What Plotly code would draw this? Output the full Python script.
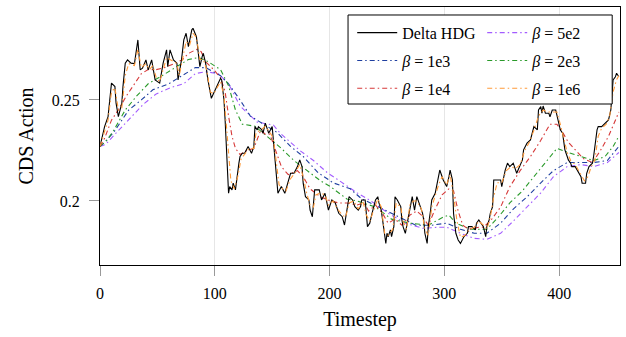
import plotly.graph_objects as go

# ---- Data ----
hdg_t = [0, 4, 7, 10, 13, 14, 16, 19, 20, 22, 24, 27, 30, 33, 35, 37, 40, 42, 45, 48, 52, 55, 58, 59, 61, 64, 67, 68, 71, 73, 75, 77, 80, 81, 84, 86, 87, 89, 90, 92, 94, 97, 99, 102, 105, 106, 108, 109, 110, 112, 113, 115, 116, 118, 121, 122, 124, 126, 129, 132, 134, 135, 137, 138, 141, 142, 144, 147, 150, 151, 153, 155, 158, 161, 166, 169, 172, 174, 176, 177, 179, 182, 183, 185, 187, 191, 193, 196, 199, 202, 205, 208, 211, 213, 215, 217, 220, 222, 225, 227, 228, 231, 233, 235, 237, 240, 242, 243, 245, 247, 249, 250, 251, 253, 254, 256, 257, 259, 262, 263, 264, 266, 267, 269, 271, 272, 274, 276, 278, 281, 282, 283, 285, 286, 288, 289, 292, 294, 296, 299, 302, 304, 305, 307, 308, 310, 312, 314, 317, 320, 321, 324, 327, 328, 330, 334, 336, 337, 339, 340, 342, 343, 346, 349, 350, 353, 355, 357, 360, 363, 368, 369, 372, 375, 378, 381, 382, 384, 385, 386, 388, 391, 392, 394, 397, 400, 401, 403, 404, 405, 407, 408, 410, 411, 414, 417, 419, 420, 423, 424, 426, 429, 430, 433, 434, 437, 440, 443, 445, 446, 447, 449, 450, 452]
hdg_y = [0.227, 0.2368, 0.2417, 0.2583, 0.2566, 0.2484, 0.2417, 0.2484, 0.2566, 0.2682, 0.2698, 0.2682, 0.268, 0.2797, 0.2649, 0.2657, 0.2698, 0.2649, 0.2698, 0.2599, 0.2583, 0.2682, 0.2748, 0.2665, 0.2748, 0.2698, 0.2682, 0.2599, 0.2698, 0.2797, 0.283, 0.2764, 0.2847, 0.2855, 0.2813, 0.2731, 0.2665, 0.2714, 0.2731, 0.2682, 0.2599, 0.2508, 0.2533, 0.2574, 0.2607, 0.2599, 0.25, 0.2401, 0.2269, 0.2038, 0.2071, 0.2055, 0.2088, 0.2055, 0.2187, 0.222, 0.2236, 0.2236, 0.2269, 0.2236, 0.2269, 0.2368, 0.2352, 0.2368, 0.2352, 0.2335, 0.2385, 0.2335, 0.2368, 0.2286, 0.217, 0.2038, 0.2071, 0.2038, 0.2137, 0.2137, 0.217, 0.2203, 0.217, 0.2088, 0.2021, 0.2005, 0.1955, 0.1922, 0.2055, 0.2055, 0.2005, 0.2038, 0.1955, 0.2005, 0.199, 0.1939, 0.1922, 0.1881, 0.1955, 0.2021, 0.2005, 0.1972, 0.1955, 0.1972, 0.2005, 0.2005, 0.1873, 0.189, 0.1939, 0.2005, 0.2021, 0.199, 0.1955, 0.1873, 0.179, 0.184, 0.1823, 0.1857, 0.1823, 0.1873, 0.2021, 0.2005, 0.1972, 0.1906, 0.1873, 0.184, 0.1873, 0.1922, 0.2005, 0.2021, 0.1955, 0.2021, 0.1989, 0.1939, 0.1906, 0.184, 0.179, 0.1873, 0.1955, 0.2005, 0.2038, 0.2088, 0.2153, 0.2104, 0.2071, 0.212, 0.2153, 0.2104, 0.1939, 0.184, 0.1807, 0.179, 0.1823, 0.184, 0.1873, 0.1873, 0.1857, 0.189, 0.1906, 0.1873, 0.1823, 0.1873, 0.1906, 0.1939, 0.1972, 0.2104, 0.2104, 0.2104, 0.2071, 0.2153, 0.2187, 0.217, 0.2187, 0.2137, 0.2203, 0.2253, 0.2286, 0.2302, 0.2368, 0.2352, 0.245, 0.2467, 0.2434, 0.247, 0.2434, 0.2434, 0.2417, 0.245, 0.245, 0.2368, 0.2352, 0.2335, 0.2286, 0.2253, 0.222, 0.2203, 0.2187, 0.217, 0.217, 0.2137, 0.212, 0.2088, 0.2088, 0.2137, 0.217, 0.2187, 0.222, 0.2352, 0.2368, 0.2368, 0.2385, 0.2401, 0.245, 0.2511, 0.2599, 0.2615, 0.2632, 0.2615]

b5e2_t = [0, 5, 13, 23, 38, 49, 61, 73, 83, 92, 103, 112, 122, 137, 151, 157, 174, 186, 198, 206, 224, 236, 251, 266, 281, 296, 302, 314, 326, 337, 349, 360, 372, 384, 395, 407, 419, 430, 442, 452]
b5e2_y = [0.227, 0.228, 0.233, 0.239, 0.248, 0.253, 0.256, 0.258, 0.263, 0.264, 0.263, 0.258, 0.247, 0.239, 0.2376, 0.2335, 0.225, 0.22, 0.214, 0.211, 0.204, 0.2, 0.194, 0.189, 0.1865, 0.187, 0.187, 0.184, 0.1815, 0.181, 0.184, 0.19, 0.197, 0.204, 0.212, 0.217, 0.218, 0.217, 0.219, 0.224]

b1e3_t = [0, 4, 12, 25, 36, 46, 60, 71, 83, 92, 99, 105, 112, 122, 131, 142, 154, 166, 177, 190, 203, 218, 228, 243, 260, 275, 289, 302, 314, 326, 337, 349, 360, 372, 384, 395, 407, 419, 430, 442, 452]
b1e3_y = [0.227, 0.229, 0.234, 0.245, 0.25, 0.255, 0.258, 0.262, 0.266, 0.266, 0.264, 0.262, 0.258, 0.25, 0.242, 0.238, 0.234, 0.227, 0.222, 0.214, 0.209, 0.206, 0.201, 0.197, 0.192, 0.188, 0.188, 0.189, 0.186, 0.184, 0.184, 0.189, 0.196, 0.202, 0.209, 0.215, 0.219, 0.219, 0.219, 0.22, 0.227]

b2e3_t = [0, 6, 12, 22, 32, 42, 54, 65, 77, 86, 94, 105, 112, 118, 124, 135, 148, 158, 169, 180, 192, 201, 208, 215, 224, 240, 254, 270, 286, 299, 304, 310, 323, 337, 347, 357, 368, 378, 388, 398, 408, 419, 430, 440, 447, 452]
b2e3_y = [0.227, 0.23, 0.235, 0.245, 0.252, 0.258, 0.262, 0.266, 0.27, 0.271, 0.269, 0.265, 0.257, 0.245, 0.238, 0.237, 0.231, 0.226, 0.22, 0.215, 0.21, 0.207, 0.204, 0.201, 0.2, 0.197, 0.191, 0.189, 0.188, 0.192, 0.193, 0.189, 0.186, 0.186, 0.192, 0.199, 0.205, 0.212, 0.219, 0.226, 0.224, 0.222, 0.22, 0.222, 0.227, 0.232]

b1e4_t = [0, 4, 10, 17, 23, 30, 36, 42, 49, 56, 65, 72, 77, 84, 88, 92, 99, 105, 109, 112, 115, 118, 122, 128, 134, 140, 144, 148, 154, 158, 164, 168, 172, 177, 183, 192, 201, 208, 215, 224, 230, 234, 240, 246, 251, 257, 263, 270, 276, 280, 286, 292, 298, 304, 308, 312, 316, 321, 330, 334, 340, 349, 357, 366, 375, 384, 392, 398, 403, 408, 416, 421, 429, 436, 443, 449, 452]
b1e4_y = [0.227, 0.231, 0.24, 0.246, 0.252, 0.258, 0.263, 0.265, 0.265, 0.266, 0.268, 0.27, 0.273, 0.275, 0.274, 0.269, 0.265, 0.261, 0.254, 0.242, 0.232, 0.226, 0.223, 0.225, 0.226, 0.235, 0.233, 0.233, 0.224, 0.217, 0.213, 0.214, 0.215, 0.212, 0.206, 0.202, 0.2, 0.199, 0.199, 0.198, 0.199, 0.195, 0.198, 0.194, 0.189, 0.191, 0.188, 0.193, 0.195, 0.193, 0.188, 0.196, 0.203, 0.206, 0.205, 0.195, 0.188, 0.186, 0.187, 0.187, 0.19, 0.197, 0.207, 0.215, 0.222, 0.23, 0.238, 0.238, 0.234, 0.229, 0.224, 0.221, 0.219, 0.225, 0.232, 0.24, 0.244]

b1e6_t = [0, 4, 7, 10, 13, 16, 19, 22, 25, 30, 33, 36, 40, 43, 46, 49, 52, 55, 58, 61, 64, 67, 69, 72, 75, 78, 81, 84, 87, 90, 93, 96, 99, 102, 105, 108, 110, 112, 114, 117, 120, 123, 126, 130, 134, 136, 140, 144, 148, 151, 153, 156, 159, 162, 166, 170, 174, 177, 180, 183, 186, 188, 192, 196, 199, 203, 207, 211, 214, 217, 221, 225, 229, 232, 235, 238, 242, 245, 248, 251, 255, 258, 262, 264, 267, 270, 273, 276, 280, 283, 286, 289, 292, 295, 298, 302, 305, 308, 311, 314, 318, 322, 326, 330, 334, 337, 340, 343, 346, 350, 354, 358, 362, 366, 370, 374, 378, 382, 386, 390, 394, 398, 401, 404, 407, 410, 414, 418, 422, 425, 428, 431, 434, 437, 441, 444, 447, 450, 452]
b1e6_y = [0.227, 0.234, 0.24, 0.254, 0.256, 0.245, 0.246, 0.262, 0.268, 0.267, 0.275, 0.266, 0.268, 0.265, 0.267, 0.261, 0.259, 0.265, 0.271, 0.27, 0.269, 0.268, 0.262, 0.27, 0.279, 0.277, 0.283, 0.281, 0.27, 0.27, 0.265, 0.254, 0.253, 0.256, 0.259, 0.252, 0.238, 0.222, 0.21, 0.206, 0.212, 0.221, 0.223, 0.226, 0.226, 0.234, 0.235, 0.237, 0.234, 0.231, 0.222, 0.208, 0.206, 0.205, 0.211, 0.214, 0.218, 0.212, 0.204, 0.198, 0.197, 0.203, 0.204, 0.203, 0.198, 0.2, 0.196, 0.193, 0.192, 0.199, 0.2, 0.196, 0.2, 0.193, 0.19, 0.195, 0.201, 0.197, 0.184, 0.183, 0.186, 0.199, 0.197, 0.19, 0.186, 0.198, 0.2, 0.2, 0.196, 0.186, 0.183, 0.197, 0.203, 0.208, 0.212, 0.208, 0.213, 0.203, 0.19, 0.182, 0.183, 0.186, 0.187, 0.19, 0.188, 0.186, 0.192, 0.202, 0.209, 0.209, 0.215, 0.217, 0.216, 0.218, 0.225, 0.229, 0.235, 0.242, 0.245, 0.244, 0.244, 0.244, 0.238, 0.231, 0.224, 0.22, 0.218, 0.214, 0.21, 0.212, 0.217, 0.22, 0.232, 0.236, 0.238, 0.242, 0.254, 0.26, 0.262]

x_ticks = [0, 100, 200, 300, 400]
y_ticks = [0.2, 0.25]
y_tick_text = ["0.2", "0.25"]

FONT = "Liberation Serif"
DASH = "5px,3px,1.5px,3px"

series = [
    # (name, t, y, color, dash, legend column, rank)
    ("<i>β</i> = 5e2", b5e2_t, b5e2_y, "#a35cff", DASH, "legend2", 1),
    ("<i>β</i> = 1e3", b1e3_t, b1e3_y, "#1f3fa0", DASH, "legend", 2),
    ("<i>β</i> = 2e3", b2e3_t, b2e3_y, "#2a9a2a", DASH, "legend2", 2),
    ("<i>β</i> = 1e4", b1e4_t, b1e4_y, "#d63838", DASH, "legend", 3),
    ("Delta HDG", hdg_t, hdg_y, "#000000", "solid", "legend", 1),
    ("<i>β</i> = 1e6", b1e6_t, b1e6_y, "#ff9a3a", DASH, "legend2", 3),
]

fig = go.Figure()
for i, (name, t, y, color, dash, leg, rank) in enumerate(series):
    fig.add_trace(go.Scatter(
        x=t, y=y, mode="lines", name=name, legend=leg, legendrank=rank,
        legendgroup="g%d" % rank,
        line=dict(color=color, dash=dash, width=1.1),
    ))

# legend frame (two legend columns share one box)
fig.add_shape(type="rect", xref="paper", yref="paper",
              x0=0.477, x1=0.985, y0=0.624, y1=0.969,
              line=dict(color="black", width=1), fillcolor="white", layer="above")

leg_common = dict(
    yanchor="top", xanchor="left", y=0.966, orientation="v",
    bgcolor="rgba(0,0,0,0)", borderwidth=0, itemwidth=40, tracegroupgap=4,
    font=dict(family=FONT, size=16, color="black"), traceorder="grouped",
)

fig.update_layout(
    width=626, height=337,
    margin=dict(l=100, r=6, t=7, b=72, autoexpand=False),
    paper_bgcolor="white", plot_bgcolor="white",
    font=dict(family=FONT, size=16, color="black"),
    showlegend=True,
    legend=dict(x=0.485, **leg_common),
    legend2=dict(x=0.735, **leg_common),
    xaxis=dict(
        range=[0, 453], tickvals=x_ticks, ticks="outside", ticklen=10,
        tickcolor="#999999", showgrid=True, gridcolor="#e6e6e6", gridwidth=1,
        showline=True, linecolor="black", linewidth=1, mirror=True,
        zeroline=False, automargin=False,
        tickfont=dict(family=FONT, size=16, color="black"), ticklabelstandoff=4,
        title=dict(text="Timestep", font=dict(family=FONT, size=20, color="black"), standoff=10),
    ),
    yaxis=dict(
        range=[0.1683, 0.296], tickvals=y_ticks, ticktext=y_tick_text,
        ticks="outside", ticklen=10, tickcolor="#999999", showgrid=False,
        showline=True, linecolor="black", linewidth=1, mirror=True,
        zeroline=False, automargin=False,
        tickfont=dict(family=FONT, size=16, color="black"), ticklabelstandoff=6,
        title=dict(text="CDS Action", font=dict(family=FONT, size=20, color="black"), standoff=12),
    ),
)

fig.write_html("out.html", config={"displayModeBar": False},
               post_script="document.body.style.margin='0';")
